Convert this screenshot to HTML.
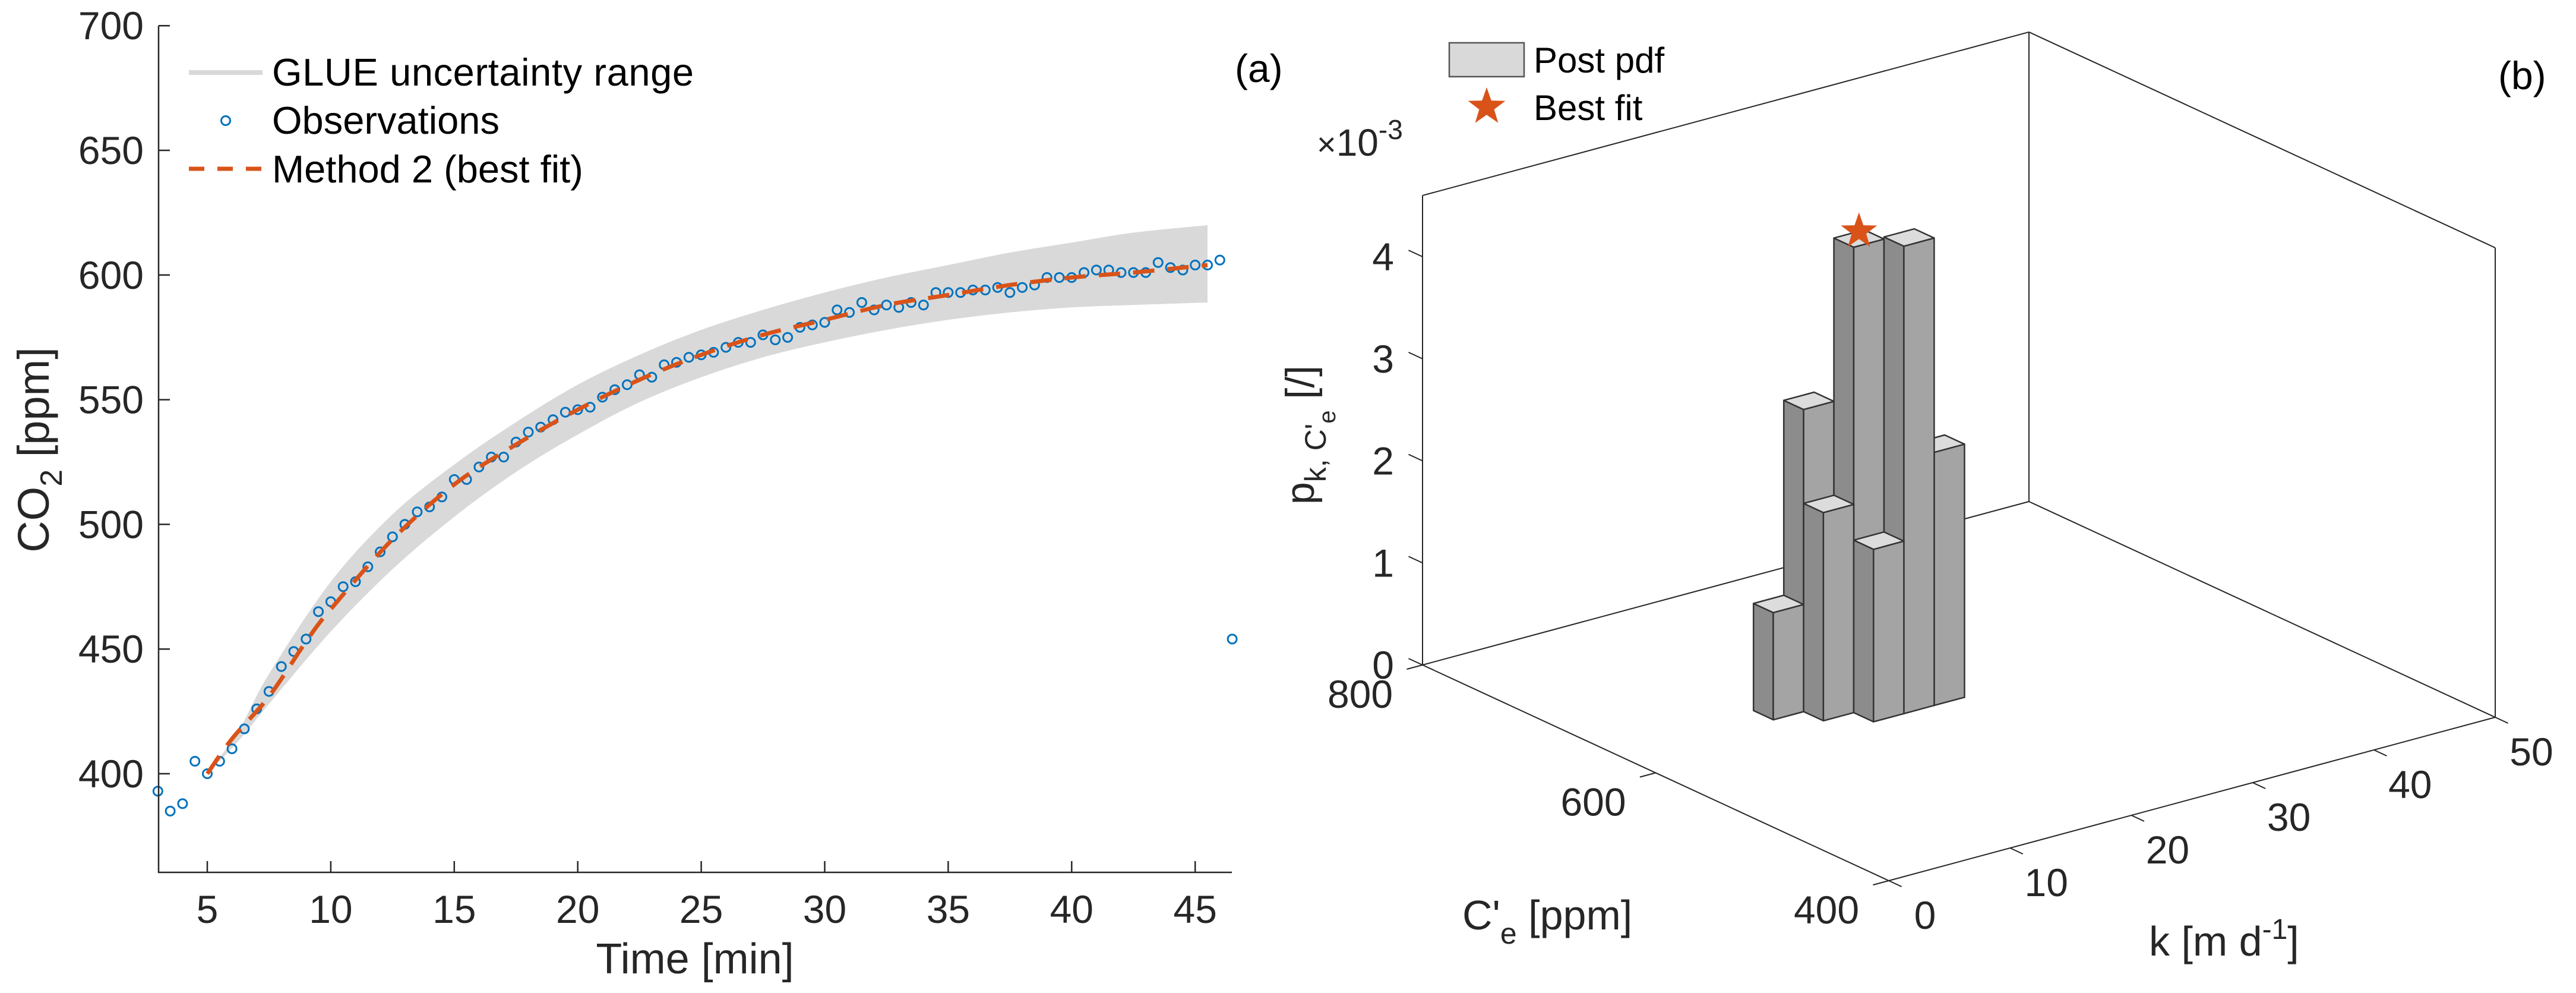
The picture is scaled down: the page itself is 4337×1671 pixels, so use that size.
<!DOCTYPE html>
<html><head><meta charset="utf-8"><style>
html,body{margin:0;padding:0;background:#fff;}
svg{display:block;font-family:"Liberation Sans",Arial,sans-serif;}
</style></head><body>
<svg id="fig" width="4337" height="1671" viewBox="0 0 4337 1671" xmlns="http://www.w3.org/2000/svg">
<g id="pa"></g>
<g id="pb"></g>
</svg>
<script>
// ===== Panel (a) data =====
const obsTime = [3,3.5,4,4.5,5,5.5,6,6.5,7,7.5,8,8.5,9,9.5,10,10.5,11,11.5,12,12.5,13,13.5,14,14.5,15,15.5,16,16.5,17,17.5,18,18.5,19,19.5,20,20.5,21,21.5,22,22.5,23,23.5,24,24.5,25,25.5,26,26.5,27,27.5,28,28.5,29,29.5,30,30.5,31,31.5,32,32.5,33,33.5,34,34.5,35,35.5,36,36.5,37,37.5,38,38.5,39,39.5,40,40.5,41,41.5,42,42.5,43,43.5,44,44.5,45,45.5,46,46.5];
const obsCO2 = [393,385,388,405,400,405,410,418,426,433,443,449,454,465,469,475,477,483,489,495,500,505,507,511,518,518,523,527,527,533,537,539,542,545,546,547,551,554,556,560,559,564,565,567,568,569,571,573,573,576,574,575,579,580,581,586,585,589,586,588,587,589,588,593,593,593,594,594,595,593,595,596,599,599,599,601,602,602,601,601,601,605,603,602,604,604,606,454];
const fitTime = [5,6,7.5,9,10,12.5,15,17.5,20,22.5,25,27.5,30,32.5,35,37.5,40,42.5,45.5];
const fitCO2  = [400,414,431,453,466,494,516,532,546,558,568,576,582,588,592,596,599,601,604];
const bandTime = [5,6.25,7.5,10,12.5,15,17.5,20,22.5,25,27.5,30,32.5,35,37.5,40,42.5,45.5];
const bandUpper = [400,417,440,477,504,524,541,556,568,578,586,593,599,604,609,613,617,620];
const bandLower = [400,413,428,457,482,503,521,536,549,559,567,573,578,582,585,587,588,589];
const xTicks = [5,10,15,20,25,30,35,40,45];
const yTicks = [400,450,500,550,600,650,700];

// ===== Panel (b) data =====
const barK = [12.1,14.6,14.6,17.1,17.1,19.6,22.1];
const barC = [625,625,608,608,591,591,591];
const barH = [1.05,2.96,2.04,4.56,1.69,4.58,2.48];
const bestK = 18.35, bestC = 616.5, bestH = 4.56;
const kTicks = [0,10,20,30,40,50];
const cTicks = [400,600,800];
const zTicks = [0,1,2,3,4];

const NS='http://www.w3.org/2000/svg';
function mk(parent, tag, attrs, text){
  const e=document.createElementNS(NS,tag);
  for(const k in attrs) e.setAttribute(k,attrs[k]);
  if(text!==undefined) e.textContent=text;
  parent.appendChild(e); return e;
}
const INK='#262626';
function smoothSegs(pts){
  let d='';
  for(let i=0;i<pts.length-1;i++){
    const p0=pts[Math.max(0,i-1)],p1=pts[i],p2=pts[i+1],p3=pts[Math.min(pts.length-1,i+2)];
    const c1=[p1[0]+(p2[0]-p0[0])/6,p1[1]+(p2[1]-p0[1])/6];
    const c2=[p2[0]-(p3[0]-p1[0])/6,p2[1]-(p3[1]-p1[1])/6];
    d+='C'+c1[0].toFixed(1)+','+c1[1].toFixed(1)+' '+c2[0].toFixed(1)+','+c2[1].toFixed(1)+' '+p2[0].toFixed(1)+','+p2[1].toFixed(1);
  }
  return d;
}
function smooth(pts){return 'M'+pts[0][0].toFixed(1)+','+pts[0][1].toFixed(1)+smoothSegs(pts);}

// ---------- Panel (a) ----------
const pa=document.getElementById('pa');
const X0=267, X1=2074, Y0=1468;
const sx=t=>349+(t-5)*41.58;
const sy=v=>1302-(v-400)*4.196;

const up=bandTime.map((t,i)=>[sx(t),sy(bandUpper[i])]);
const lo=bandTime.map((t,i)=>[sx(t),sy(bandLower[i])]).reverse();
const bpath=smooth(up)+'L'+lo[0][0].toFixed(1)+','+lo[0][1].toFixed(1)+smoothSegs(lo)+'Z';
const band=mk(pa,'path',{d:bpath,fill:'#d9d9d9',stroke:'none'});



const og=mk(pa,'g',{});


obsTime.forEach((t,i)=>{
  const c=mk(og,'circle',{cx:sx(t).toFixed(1),cy:sy(obsCO2[i]).toFixed(1),r:7.5,fill:'none',stroke:'#0072BD','stroke-width':3});
  
  
});

const fit=mk(pa,'path',{d:smooth(fitTime.map((t,i)=>[sx(t),sy(fitCO2[i])])),fill:'none',stroke:'#D95319','stroke-width':7,'stroke-dasharray':'36 22'});



const ax=mk(pa,'path',{d:`M${X0},${sy(700)}L${X0},${Y0}L${X1},${Y0}`,fill:'none',stroke:INK,'stroke-width':2.5});


xTicks.forEach(t=>{
  mk(pa,'line',{x1:sx(t),y1:Y0,x2:sx(t),y2:Y0-19,stroke:INK,'stroke-width':2.5});
  const l=mk(pa,'text',{x:sx(t),y:1553,'font-size':66,'text-anchor':'middle',fill:INK},String(t));
  
  
});
yTicks.forEach(v=>{
  mk(pa,'line',{x1:X0,y1:sy(v),x2:X0+19,y2:sy(v),stroke:INK,'stroke-width':2.5});
  const l=mk(pa,'text',{x:242,y:sy(v)+23,'font-size':66,'text-anchor':'end',fill:INK},String(v));
  
  
});
</script>
<script>
(function(){
const pa=document.getElementById('pa');
const xt=mk(pa,'text',{x:1170,y:1638,'font-size':72,'text-anchor':'middle',fill:INK},'Time [min]');


const yt=mk(pa,'text',{transform:'translate(82,757) rotate(-90)','font-size':74,'text-anchor':'middle',fill:INK});


mk(yt,'tspan',{},'CO');
mk(yt,'tspan',{dy:22,'font-size':52},'2');
mk(yt,'tspan',{dy:-22},' [ppm]');
const lg=mk(pa,'g',{});


mk(lg,'line',{x1:318,y1:122,x2:442,y2:122,stroke:'#d9d9d9','stroke-width':8});
mk(lg,'text',{x:458,y:144,'font-size':65,fill:'#000',textLength:710},'GLUE uncertainty range');
mk(lg,'circle',{cx:380,cy:203,r:7.5,fill:'none',stroke:'#0072BD','stroke-width':3});
mk(lg,'text',{x:458,y:225,'font-size':65,fill:'#000'},'Observations');
mk(lg,'line',{x1:318,y1:284,x2:442,y2:284,stroke:'#D95319','stroke-width':7,'stroke-dasharray':'26 22'});
mk(lg,'text',{x:458,y:307,'font-size':65,fill:'#000'},'Method 2 (best fit)');
const la=mk(pa,'text',{x:2079,y:138,'font-size':66,fill:'#000'},'(a)');



const pb=document.getElementById('pb');
const ZMAX=4.6;
function P(k,C,z){return [3180+k*20.42-(C-400)*1.9625, 1482-5.5*k-0.9075*(C-400)-171.75*z];}
function pt(a){return a[0].toFixed(1)+','+a[1].toFixed(1);}
function seg(a,b){return mk(pb,'line',{x1:a[0],y1:a[1],x2:b[0],y2:b[1],stroke:INK,'stroke-width':2});}
const box=mk(pb,'g',{});


[[[0,800,0],[0,400,0]],[[0,400,0],[50,400,0]],[[0,800,0],[50,800,0]],[[50,800,0],[50,400,0]],
 [[0,800,0],[0,800,ZMAX]],[[50,800,0],[50,800,ZMAX]],[[50,400,0],[50,400,ZMAX]],
 [[0,800,ZMAX],[50,800,ZMAX]],[[50,800,ZMAX],[50,400,ZMAX]]].forEach(e=>{
  const a=P(...e[0]),b=P(...e[1]);
  mk(box,'line',{x1:a[0],y1:a[1],x2:b[0],y2:b[1],stroke:INK,'stroke-width':2});
});
zTicks.forEach(z=>{
  seg(P(0,800,z),P(0,812,z));
  const p=P(0,800,z);
  const l=mk(pb,'text',{x:p[0]-48,y:p[1]+23,'font-size':66,'text-anchor':'end',fill:INK},String(z));
  
  
});
cTicks.forEach(c=>{
  seg(P(0,c,0),P(-1.3,c,0));
  const p=P(0,c,0);
  const l=mk(pb,'text',{x:p[0]-105,y:p[1]+72,'font-size':66,'text-anchor':'middle',fill:INK},String(c));
  
  
});
kTicks.forEach(k=>{
  seg(P(k,400,0),P(k,389,0));
  const p=P(k,400,0);
  const l=mk(pb,'text',{x:p[0]+61,y:p[1]+81,'font-size':66,'text-anchor':'middle',fill:INK},String(k));
  
  
});
const order=barK.map((k,i)=>i).sort((a,b)=>P(barK[a]+1.25,barC[a]+8.5,0)[1]-P(barK[b]+1.25,barC[b]+8.5,0)[1]);
const DK=2.5, DC=17;
order.forEach(i=>{
  const k=barK[i],c=barC[i],h=barH[i];
  const g=mk(pb,'g',{stroke:'#333','stroke-width':2.5,'stroke-linejoin':'round'});
  
  
  mk(g,'polygon',{points:[P(k,c,0),P(k,c+DC,0),P(k,c+DC,h),P(k,c,h)].map(pt).join(' '),fill:'#8c8c8c'});
  mk(g,'polygon',{points:[P(k,c,0),P(k+DK,c,0),P(k+DK,c,h),P(k,c,h)].map(pt).join(' '),fill:'#a4a4a4'});
  mk(g,'polygon',{points:[P(k,c,h),P(k+DK,c,h),P(k+DK,c+DC,h),P(k,c+DC,h)].map(pt).join(' '),fill:'#dcdcdc'});
});
function star(cx,cy,R){
  let s=[];for(let i=0;i<10;i++){const r=i%2?R*0.4:R;const a=-Math.PI/2+i*Math.PI/5;s.push((cx+r*Math.cos(a)).toFixed(1)+','+(cy+r*Math.sin(a)).toFixed(1));}
  return s.join(' ');
}
const bp=P(bestK,bestC,bestH);
const st=mk(pb,'polygon',{points:star(bp[0],bp[1]-12,32),fill:'#D95319'});


const ex=mk(pb,'text',{x:2217,y:262,'font-size':64,fill:INK});


mk(ex,'tspan',{'font-size':56},'\u00d7');
mk(ex,'tspan',{},'10');
mk(ex,'tspan',{dy:-28,'font-size':46},'-3');
const zl=mk(pb,'text',{transform:'translate(2212,732) rotate(-90)','font-size':68,'text-anchor':'middle',fill:INK});


mk(zl,'tspan',{},'p');
mk(zl,'tspan',{dy:20,'font-size':50},'k, C\'');
mk(zl,'tspan',{dy:16,'font-size':40},'e');
mk(zl,'tspan',{dy:-36},'  [/]');
const cl=mk(pb,'text',{x:2462,y:1564,'font-size':70,fill:INK});


mk(cl,'tspan',{},'C\'');
mk(cl,'tspan',{dy:24,'font-size':50},'e');
mk(cl,'tspan',{dy:-24},' [ppm]');
const kl=mk(pb,'text',{x:3618,y:1608,'font-size':70,fill:INK});


mk(kl,'tspan',{},'k [m d');
mk(kl,'tspan',{dy:-28,'font-size':48},'-1');
mk(kl,'tspan',{dy:28},']');
const lb=mk(pb,'g',{});


mk(lb,'rect',{x:2440,y:72,width:126,height:57,fill:'#d9d9d9',stroke:'#555','stroke-width':2.5});
mk(lb,'text',{x:2582,y:122,'font-size':60,fill:'#000'},'Post pdf');
mk(lb,'polygon',{points:star(2503,180,33),fill:'#D95319'});
mk(lb,'text',{x:2582,y:202,'font-size':60,fill:'#000'},'Best fit');
const lbl=mk(pb,'text',{x:4206,y:150,'font-size':66,fill:'#000'},'(b)');


})();
</script>
</body></html>
